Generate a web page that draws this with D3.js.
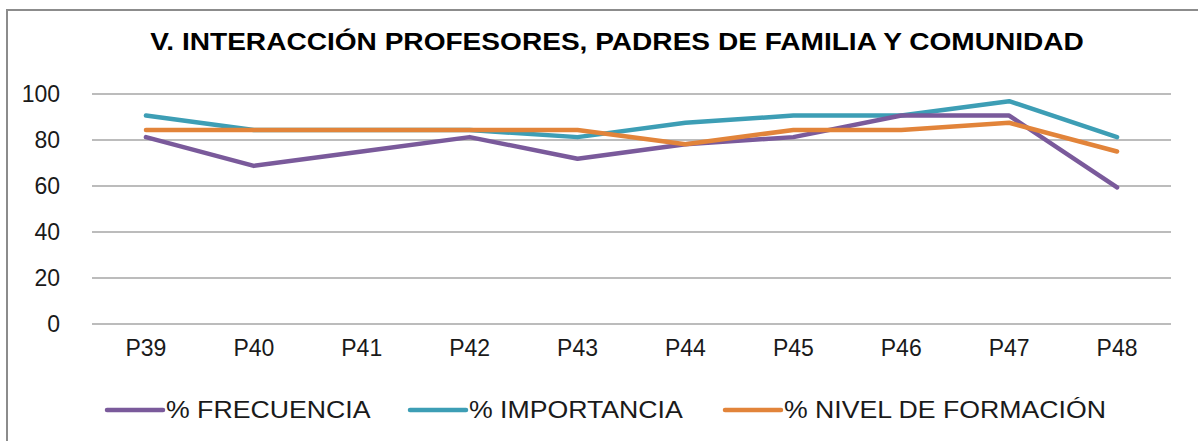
<!DOCTYPE html>
<html>
<head>
<meta charset="utf-8">
<script src="https://cdn.jsdelivr.net/npm/d3@7"></script>
<style>
  body { margin: 0; background: #fff; }
  svg text { font-family: "Liberation Sans", Arial, sans-serif; }
</style>
</head>
<body>
<script>
// chart data
var categories = ['P39', 'P40', 'P41', 'P42', 'P43', 'P44', 'P45', 'P46', 'P47', 'P48'];
var frecuencia = [81.25, 68.75, 75, 81.25, 71.875, 78.125, 81.25, 90.625, 90.625, 59.375];
var importancia = [90.625, 84.375, 84.375, 84.375, 81.25, 87.5, 90.625, 90.625, 96.875, 81.25];
var nivelFormacion = [84.375, 84.375, 84.375, 84.375, 84.375, 78.125, 84.375, 84.375, 87.5, 75];
var yTicks = [0, 20, 40, 60, 80, 100];
var seriesNames = ['% FRECUENCIA', '% IMPORTANCIA', '% NIVEL DE FORMACIÓN'];
var seriesColors = ['#7a5a9b', '#3d9eb5', '#e2843a'];

var width = 1198, height = 441;
var margin = { top: 94, right: 27, bottom: 117, left: 92 };

var svg = d3.select('body').append('svg')
    .attr('width', width)
    .attr('height', height);

// outer chart border
svg.append('rect')
    .attr('x', 7).attr('y', 10)
    .attr('width', 1200).attr('height', 460)
    .attr('fill', 'none')
    .attr('stroke', '#8c8c8c')
    .attr('stroke-width', 2);

// title (the original is a bit stretched horizontally)
svg.append('text')
    .attr('transform', 'translate(617,50) scale(1.17,1)')
    .attr('text-anchor', 'middle')
    .style('font-size', '24px')
    .style('font-weight', 'bold')
    .attr('fill', '#000')
    .text('V. INTERACCIÓN PROFESORES, PADRES DE FAMILIA Y COMUNIDAD');

var x = d3.scaleBand()
    .domain(categories)
    .range([margin.left, width - margin.right]);

var y = d3.scaleLinear()
    .domain([0, 100])
    .range([height - margin.bottom, margin.top]);

// gridlines
svg.append('g')
    .selectAll('line')
    .data(yTicks)
    .enter().append('line')
    .attr('x1', margin.left)
    .attr('x2', width - margin.right)
    .attr('y1', function (d) { return y(d); })
    .attr('y2', function (d) { return y(d); })
    .attr('stroke', '#a6a6a6')
    .attr('stroke-width', 1.5);

// y axis
var yAxis = svg.append('g')
    .attr('transform', 'translate(' + (margin.left - 32) + ',0)')
    .call(d3.axisLeft(y).tickValues(yTicks).tickSize(0).tickPadding(0));
yAxis.select('.domain').remove();
yAxis.selectAll('text')
    .style('font-size', '23px')
    .attr('fill', '#1a1a1a');

// x axis
var xAxis = svg.append('g')
    .attr('transform', 'translate(0,' + (height - margin.bottom) + ')')
    .call(d3.axisBottom(x).tickSize(0).tickPadding(16));
xAxis.select('.domain').remove();
xAxis.selectAll('text')
    .style('font-size', '23px')
    .attr('fill', '#1a1a1a');

var line = d3.line()
    .x(function (d, i) { return x(categories[i]) + x.bandwidth() / 2; })
    .y(function (d) { return y(d); });

var allSeries = [frecuencia, importancia, nivelFormacion];

// draw in order: importancia, frecuencia, nivel on top
[1, 0, 2].forEach(function (k) {
    svg.append('path')
        .datum(allSeries[k])
        .attr('d', line)
        .attr('fill', 'none')
        .attr('stroke', seriesColors[k])
        .attr('stroke-width', 4.5)
        .attr('stroke-linejoin', 'round')
        .attr('stroke-linecap', 'round');
});

// legend
var legendX = [107, 410, 725];
var legend = svg.append('g');
seriesNames.forEach(function (name, i) {
    legend.append('line')
        .attr('x1', legendX[i]).attr('x2', legendX[i] + 56)
        .attr('y1', 410).attr('y2', 410)
        .attr('stroke', seriesColors[i])
        .attr('stroke-width', 4.5)
        .attr('stroke-linecap', 'round');
    legend.append('text')
        .attr('transform', 'translate(' + (legendX[i] + 59) + ',418) scale(1.16,1)')
        .style('font-size', '23px')
        .attr('fill', '#1a1a1a')
        .text(name);
});
</script>
</body>
</html>
